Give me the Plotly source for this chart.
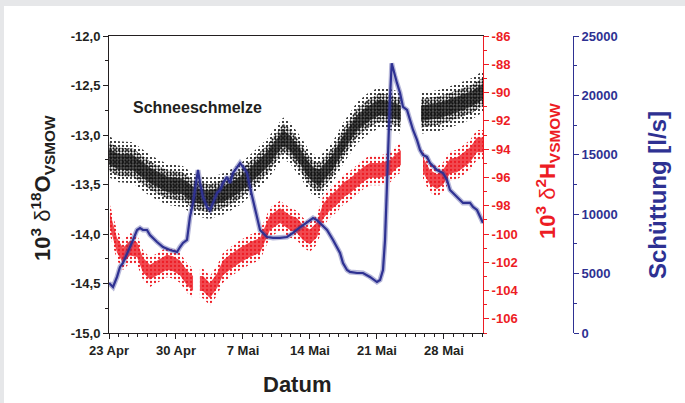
import plotly.graph_objects as go
from datetime import datetime, timedelta

# ---------------- data ----------------
START = datetime(2012, 4, 23)
X_END_DAYS = 39.08

x_tick_days = [0, 7, 14, 21, 28, 35]
x_tick_labels = ["23 Apr", "30 Apr", "7 Mai", "14 Mai", "21 Mai", "28 Mai"]

o18_ticks = [-15.0, -14.5, -14.0, -13.5, -13.0, -12.5, -12.0]
o18_tick_labels = ["-15,0", "-14,5", "-14,0", "-13,5", "-13,0", "-12,5", "-12,0"]
h2_ticks = [-106, -104, -102, -100, -98, -96, -94, -92, -90, -88, -86]
h2_tick_labels = ["-106", "-104", "-102", "-100", "-98", "-96", "-94", "-92", "-90", "-88", "-86"]
q_ticks = [0, 5000, 10000, 15000, 20000, 25000]
q_tick_labels = ["0", "5000", "10000", "15000", "20000", "25000"]

# delta 18O (left axis) - centre of the point cloud, two segments (data gap)
o18_days_1 = [0, 1, 2.5, 4.3, 6.1, 7.7, 8.8, 9.5, 10.5, 12.1, 13.7, 14.7, 16.5, 17.5,
              18.2, 18.9, 20.0, 20.7, 21.3, 22.0, 23.4, 24.5, 25.9, 27.0, 28.3, 29.7, 30.5]
o18_vals_1 = [-13.22, -13.27, -13.28, -13.41, -13.50, -13.52, -13.60, -13.62, -13.64,
              -13.59, -13.50, -13.41, -13.25, -13.12, -13.03, -13.08, -13.22, -13.33,
              -13.40, -13.43, -13.27, -13.08, -12.88, -12.79, -12.72, -12.75, -12.78]
o18_days_2 = [32.6, 34.6, 36.4, 38.0, 39.08]
o18_vals_2 = [-12.78, -12.75, -12.69, -12.63, -12.56]
o18_spread = 0.13

# delta 2H (red axis) - centre of the point cloud, three segments
h2_days_1 = [0.1, 0.84, 1.46, 2.19, 2.93, 3.55, 4.28, 5.33, 6.06, 6.69, 7.42, 8.15, 8.78]
h2_vals_1 = [-99.0, -100.8, -101.5, -101.0, -101.1, -102.2, -102.7, -102.3, -102.0,
             -102.1, -102.4, -103.1, -103.5]
h2_days_2 = [9.5, 9.82, 10.55, 11.29, 11.91, 12.64, 13.69, 14.73, 15.78, 16.82, 17.87,
             18.91, 19.64, 20.27, 21.0, 21.73, 22.36, 23.09, 23.82, 24.45, 25.18, 25.91,
             26.54, 27.27, 28.32, 29.36, 30.09, 30.5]
h2_vals_2 = [-103.5, -103.5, -104.0, -103.3, -102.4, -102.0, -101.5, -101.1, -100.8,
             -99.2, -98.7, -99.2, -99.4, -99.9, -100.2, -99.7, -98.4, -97.8, -97.4,
             -96.9, -96.6, -96.2, -95.8, -95.5, -95.5, -95.3, -94.8, -94.6]
h2_days_3 = [32.81, 33.54, 34.27, 34.9, 35.63, 36.36, 36.99, 37.72, 38.45, 39.08]
h2_vals_3 = [-95.1, -96.0, -96.3, -96.0, -95.2, -95.1, -94.8, -94.4, -93.7, -93.7]
h2_spread = 0.7

# discharge (blue axis)
q_days = [0.00, 0.42, 0.84, 1.15, 1.46, 1.88, 2.19, 2.51, 2.93, 3.24, 3.55, 3.97, 4.28,
          5.02, 5.64, 6.37, 7.11, 7.42, 7.73, 8.15, 8.46, 8.78, 9.20, 9.30, 9.51, 9.82,
          10.24, 10.55, 10.87, 11.29, 11.60, 11.91, 12.33, 12.64, 12.96, 13.38, 13.69,
          14.00, 14.42, 14.73, 15.05, 15.47, 15.78, 16.09, 16.51, 17.14, 17.87, 18.60,
          19.23, 19.96, 20.69, 21.32, 21.73, 22.05, 22.78, 23.41, 23.82, 24.14, 24.45,
          24.87, 25.18, 25.91, 26.54, 27.27, 28.00, 28.32, 28.63, 28.84, 29.02, 29.19,
          29.36, 29.54, 29.89, 30.09, 30.41, 30.72, 31.14, 31.45, 31.77, 32.18, 32.50,
          32.81, 33.23, 33.54, 34.27, 34.90, 35.32, 35.63, 36.36, 36.99, 37.72, 38.04,
          38.45, 38.77, 39.08]
q_vals = [4210, 3870, 4720, 5560, 5890, 6740, 7240, 7830, 8670, 8840, 8670, 8670, 8250,
          7660, 7240, 6990, 6820, 7240, 7580, 7830, 9770, 10950, 13470, 13720, 12630, 11450,
          10610, 10360, 10950, 11790, 12040, 12630, 13140, 12630, 13470, 13980, 14310,
          13980, 13470, 12290, 11200, 9770, 8670, 8420, 8080, 8000, 8000, 8080,
          8420, 8900, 9350, 9680, 9500, 9260, 8670, 7830, 7240, 6740, 5890,
          5300, 5140, 5050, 5050, 4720, 4290, 4460, 5300, 7800, 11800, 16250,
          19800, 22700, 21550, 21050, 20210, 19030, 18780, 17930, 17090, 16250, 15410,
          14990, 14820, 14310, 13720, 13470, 12880, 12040, 11450, 10950, 10950, 10610,
          10360, 9770, 9260]

# ---------------- helpers ----------------
def to_dates(days):
    return [START + timedelta(days=d) for d in days]

L, R, T, B = 109, 573, 36, 333   # plot-area pixel box
def px(x):
    return (x - L) / (R - L)
def py(y):
    return (B - y) / (B - T)

BLACK = "#231f20"
RED = "#ed1c24"
BLUE = "#2e3192"
GRAY = "#e6e7e9"

fig = go.Figure()

def band(days, vals, spread, width_mult, fill=None, pattern=None, yaxis="y"):
    d = to_dates(days)
    lo = [v - spread * width_mult for v in vals]
    hi = [v + spread * width_mult for v in vals]
    fig.add_trace(go.Scatter(x=d, y=lo, mode="lines", line=dict(width=0),
                             yaxis=yaxis, showlegend=False, hoverinfo="skip"))
    kw = dict(fill="tonexty", fillcolor=fill if fill else "rgba(0,0,0,0)")
    if pattern:
        kw["fillpattern"] = pattern
    fig.add_trace(go.Scatter(x=d, y=hi, mode="lines", line=dict(width=0),
                             yaxis=yaxis, showlegend=False, hoverinfo="skip", **kw))

def dots(color, size, solidity):
    return dict(shape=".", fgcolor=color, bgcolor="rgba(0,0,0,0)", size=size,
                solidity=solidity, fillmode="replace")

for dd, vv in [(o18_days_1, o18_vals_1), (o18_days_2, o18_vals_2)]:
    band(dd, vv, o18_spread, 1.6, pattern=dots("#111111", 4, 0.22), yaxis="y")
    band(dd, vv, o18_spread, 1.1, fill="rgba(20,20,20,0.25)",
         pattern=dots("#111111", 3, 0.45), yaxis="y")
    band(dd, vv, o18_spread, 0.6, fill="rgba(20,20,20,0.72)", yaxis="y")

for dd, vv in [(h2_days_1, h2_vals_1), (h2_days_2, h2_vals_2), (h2_days_3, h2_vals_3)]:
    band(dd, vv, h2_spread, 1.5, pattern=dots(RED, 4, 0.25), yaxis="y2")
    band(dd, vv, h2_spread, 0.75, fill="rgba(237,28,36,0.8)", yaxis="y2")

qd = to_dates(q_days)
fig.add_trace(go.Scatter(x=qd, y=q_vals, mode="lines", yaxis="y3",
                         line=dict(color="rgba(46,49,146,0.35)", width=5),
                         showlegend=False, hoverinfo="skip"))
fig.add_trace(go.Scatter(x=qd, y=q_vals, mode="lines", yaxis="y3",
                         line=dict(color=BLUE, width=2.2),
                         showlegend=False))

tickfont = dict(family="Liberation Sans, Arial, sans-serif", size=13, weight="bold")

fig.update_layout(
    width=685, height=403, autosize=False,
    margin=dict(l=L, r=685 - R, t=T, b=403 - B, pad=0),
    paper_bgcolor="white", plot_bgcolor="white",
    font=dict(family="Liberation Sans, Arial, sans-serif", color=BLACK),
    showlegend=False,
    xaxis=dict(
        domain=[0, (483 - L) / (R - L)],
        type="date",
        range=[START, START + timedelta(days=X_END_DAYS)],
        tickmode="array", tickvals=to_dates(x_tick_days), ticktext=x_tick_labels,
        ticks="outside", ticklen=5, tickwidth=1, tickcolor=BLACK,
        minor=dict(tickmode="linear", tick0=START, dtick=86400000, ticks="outside",
                   ticklen=3, tickcolor=BLACK, showgrid=False),
        showline=True, linecolor=BLACK, linewidth=1, mirror=True,
        showgrid=False, zeroline=False,
        tickfont=dict(tickfont, color=BLACK),
    ),
    yaxis=dict(
        range=[-15, -12], anchor="x", side="left",
        tickmode="array", tickvals=o18_ticks, ticktext=o18_tick_labels,
        ticks="outside", ticklen=5, tickwidth=1, tickcolor=BLACK,
        minor=dict(tickmode="linear", tick0=-15, dtick=0.25, ticks="outside",
                   ticklen=3, tickcolor=BLACK, showgrid=False),
        showline=True, linecolor=BLACK, linewidth=1,
        showgrid=False, zeroline=False,
        tickfont=dict(tickfont, color=BLACK),
    ),
    yaxis2=dict(
        range=[-107, -86], anchor="x", overlaying="y", side="right",
        tickmode="array", tickvals=h2_ticks, ticktext=h2_tick_labels,
        ticks="outside", ticklen=5, tickwidth=1, tickcolor=RED,
        minor=dict(tickmode="linear", tick0=-107, dtick=1, ticks="outside",
                   ticklen=3, tickcolor=RED, showgrid=False),
        showline=True, linecolor=RED, linewidth=1,
        showgrid=False, zeroline=False,
        tickfont=dict(tickfont, color=RED),
    ),
    yaxis3=dict(
        range=[0, 25000], anchor="free", position=1, overlaying="y", side="right",
        tickmode="array", tickvals=q_ticks, ticktext=q_tick_labels,
        ticks="outside", ticklen=5, tickwidth=1, tickcolor=BLUE,
        minor=dict(tickmode="linear", tick0=0, dtick=2500, ticks="outside",
                   ticklen=3, tickcolor=BLUE, showgrid=False),
        showline=True, linecolor=BLUE, linewidth=1,
        showgrid=False, zeroline=False,
        tickfont=dict(tickfont, color=BLUE),
    ),
)

dl = '<span style="font-weight:normal">δ</span>'
ann_font = dict(family="Liberation Sans, Arial, sans-serif", weight="bold")
fig.add_annotation(xref="paper", yref="paper", x=px(42), y=py(188), textangle=-90,
                   text="10<sup>3</sup> " + dl + "<sup>18</sup>O<sub>VSMOW</sub>",
                   showarrow=False, xanchor="center", yanchor="middle",
                   font=dict(ann_font, size=22, color=BLACK))
fig.add_annotation(xref="paper", yref="paper", x=px(547), y=py(171), textangle=-90,
                   text="10<sup>3</sup> " + dl + "<sup>2</sup>H<sub>VSMOW</sub>",
                   showarrow=False, xanchor="center", yanchor="middle",
                   font=dict(ann_font, size=22, color=RED))
fig.add_annotation(xref="paper", yref="paper", x=px(657), y=py(195), textangle=-90,
                   text="Schüttung [l/s]",
                   showarrow=False, xanchor="center", yanchor="middle",
                   font=dict(ann_font, size=24, color=BLUE))
fig.add_annotation(xref="paper", yref="paper", x=px(297), y=py(384),
                   text="Datum", showarrow=False, xanchor="center", yanchor="middle",
                   font=dict(ann_font, size=22, color=BLACK))
fig.add_annotation(xref="paper", yref="paper", x=px(197), y=py(107),
                   text="Schneeschmelze", showarrow=False, xanchor="center", yanchor="middle",
                   font=dict(ann_font, size=16, color=BLACK))

# light-gray page frame strips
fig.add_shape(type="rect", xref="paper", yref="paper", x0=px(0), x1=px(685), y0=py(6), y1=py(0),
              fillcolor=GRAY, line=dict(width=0), layer="above")
fig.add_shape(type="rect", xref="paper", yref="paper", x0=px(0), x1=px(4), y0=py(403), y1=py(0),
              fillcolor=GRAY, line=dict(width=0), layer="above")

fig.write_html("out.html", config={"displayModeBar": False},
               post_script="document.body.style.margin='0px';document.body.style.overflow='hidden';")
